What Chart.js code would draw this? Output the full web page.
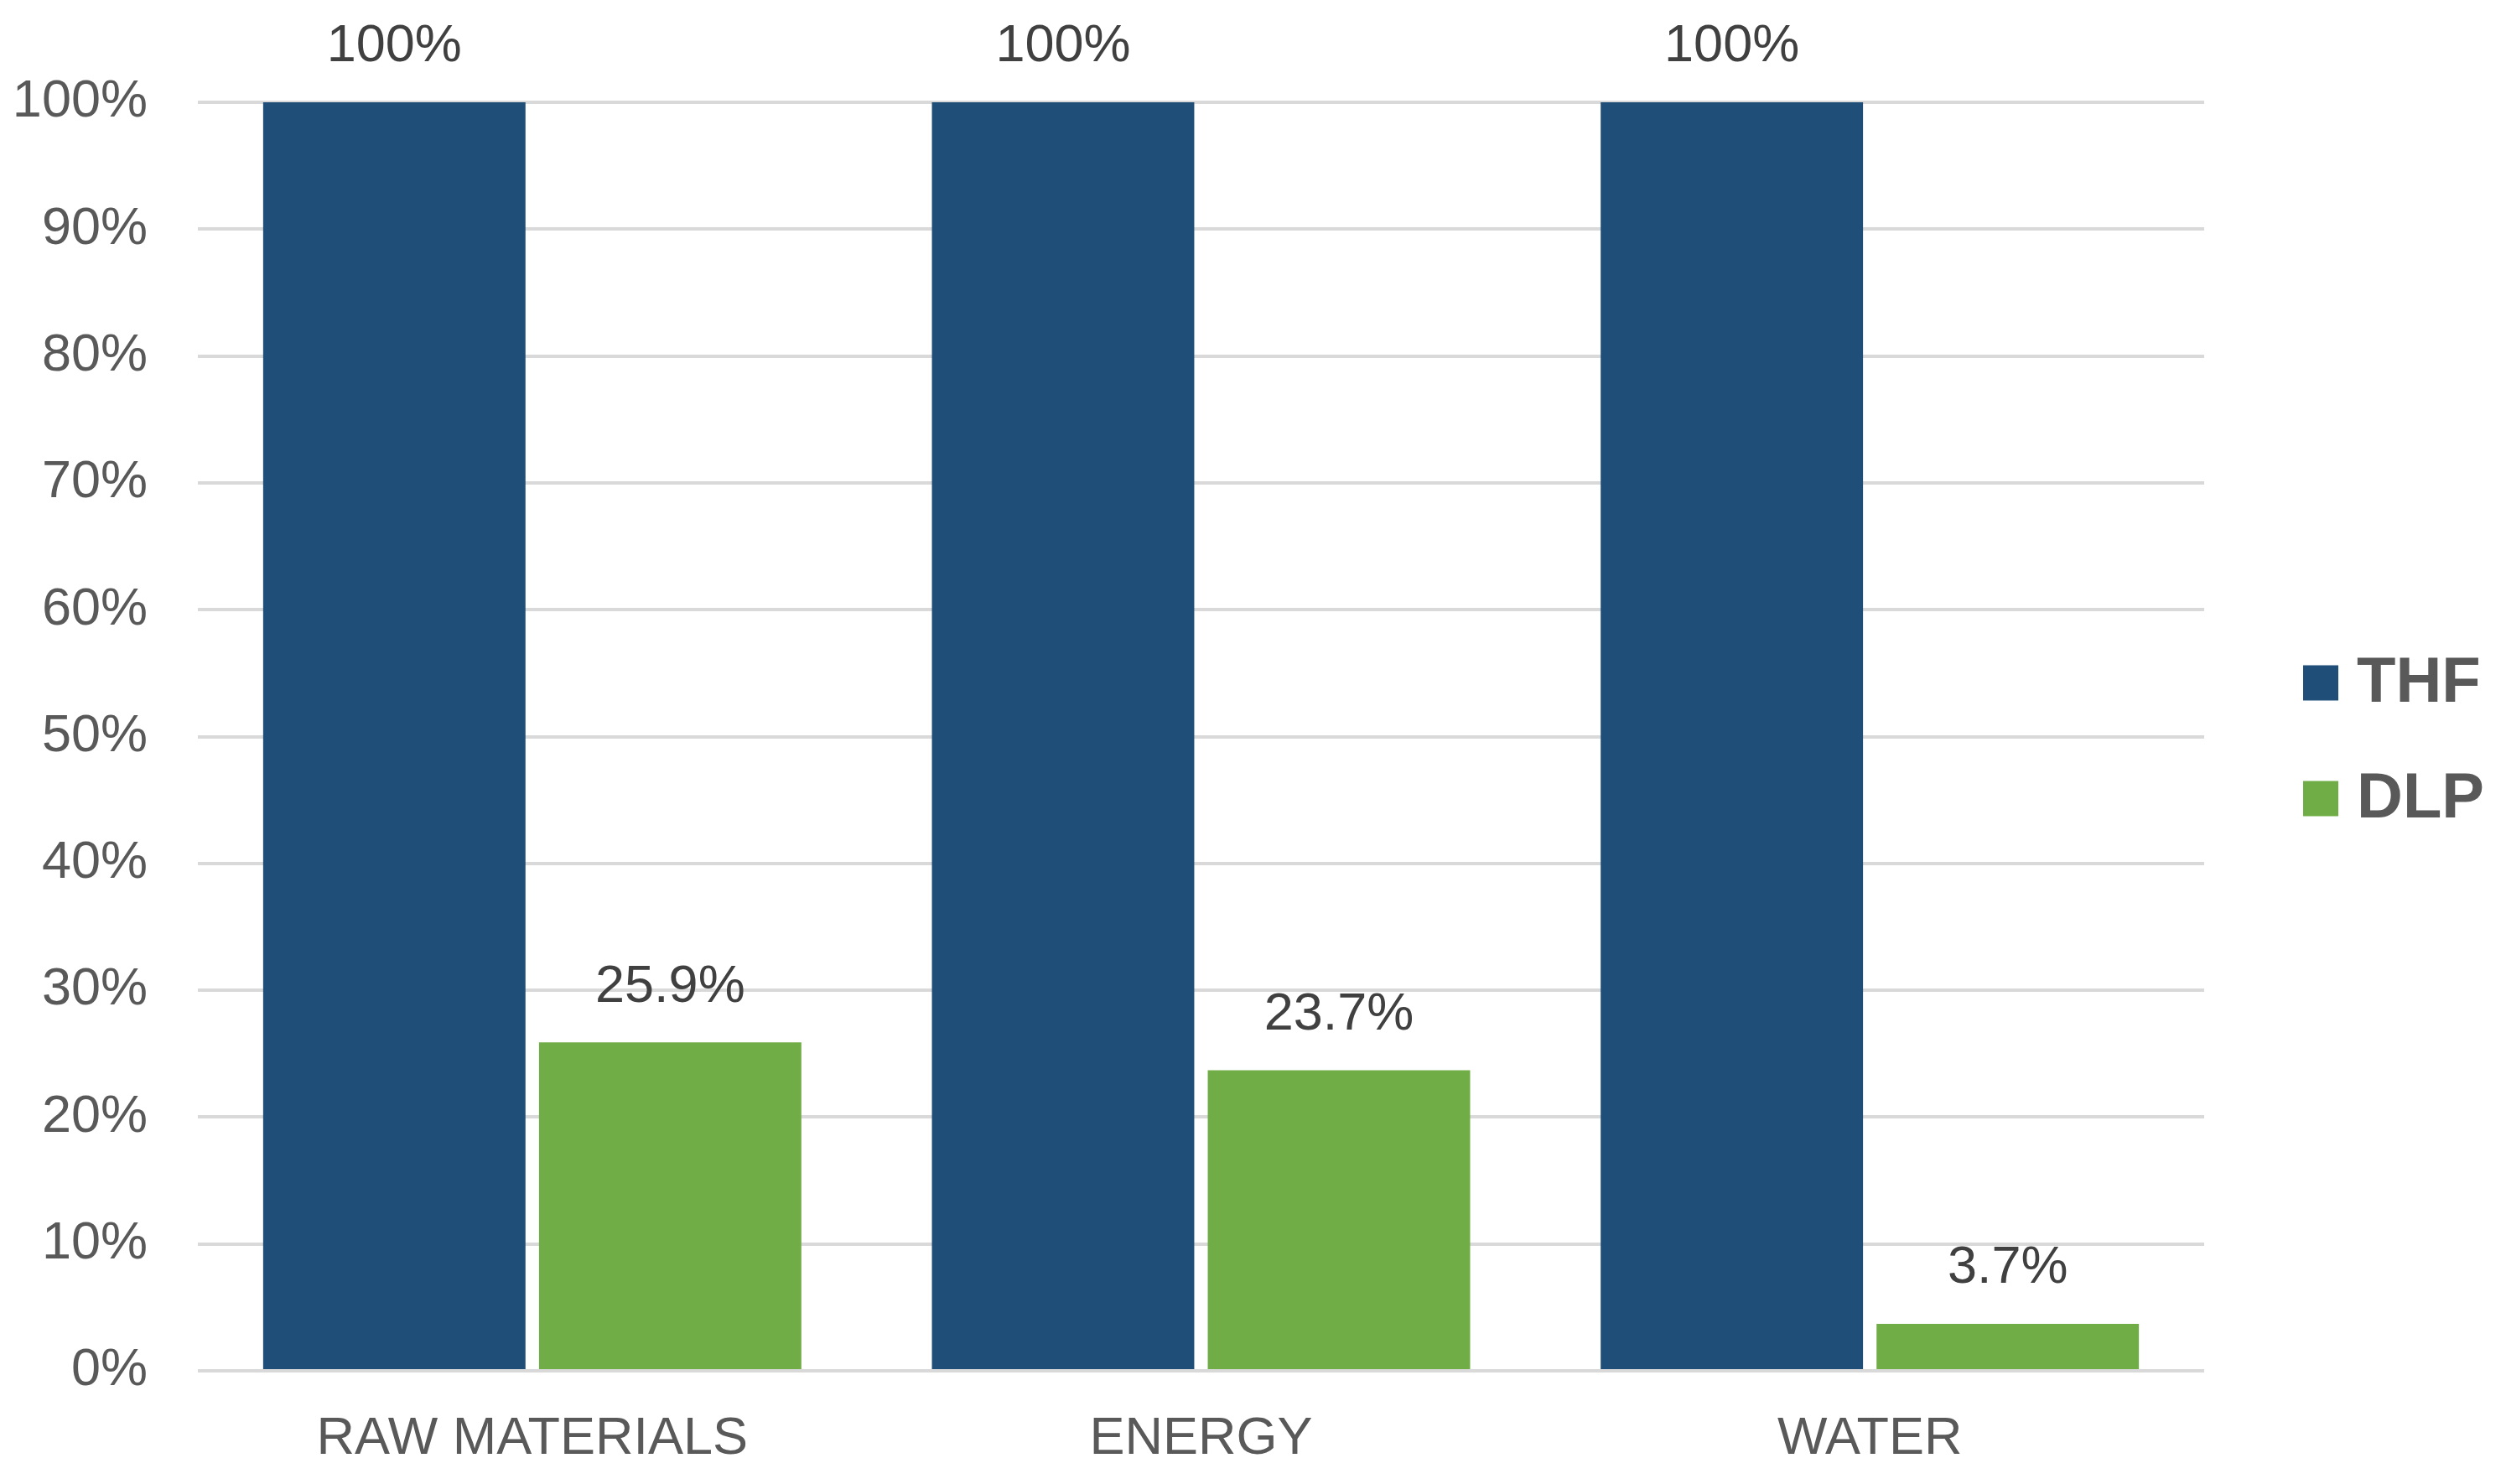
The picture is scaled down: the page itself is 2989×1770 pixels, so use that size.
<!DOCTYPE html>
<html>
<head>
<meta charset="utf-8">
<script src="https://cdn.jsdelivr.net/npm/chart.js@4.4.1/dist/chart.umd.min.js"></script>
<style>
  html, body { margin: 0; padding: 0; background: #fff; }
  #wrap { width: 2989px; height: 1770px; position: relative; }
</style>
</head>
<body>
<div id="wrap"><canvas id="chart"></canvas></div>
<script>
const categories = ['RAW MATERIALS', 'ENERGY', 'WATER'];
const seriesNames = ['THF', 'DLP'];
const thfValues = [100, 100, 100];
const dlpValues = [25.9, 23.7, 3.7];
const yTicks = [0, 10, 20, 30, 40, 50, 60, 70, 80, 90, 100];

const FONT = '"Liberation Sans", Arial, sans-serif';

// value labels above each bar
const barLabels = {
  id: 'barLabels',
  afterDatasetsDraw(chart) {
    const ctx = chart.ctx;
    ctx.save();
    ctx.font = '63px ' + FONT;
    ctx.fillStyle = '#404040';
    ctx.textAlign = 'center';
    ctx.textBaseline = 'middle';
    chart.data.datasets.forEach((ds, i) => {
      chart.getDatasetMeta(i).data.forEach((bar, j) => {
        ctx.fillText(ds.data[j] + '%', bar.x, bar.y - 66);
      });
    });
    ctx.restore();
  }
};

// legend to the right of the plot, squares + bold names
const sideLegend = {
  id: 'sideLegend',
  afterDraw(chart) {
    const ctx = chart.ctx;
    const area = chart.chartArea;
    const mid = (area.top + area.bottom) / 2 + 5;
    const box = 42, gap = 138;
    const x = area.right + 118;
    ctx.save();
    ctx.font = 'bold 76px ' + FONT;
    ctx.textBaseline = 'middle';
    ctx.textAlign = 'left';
    chart.data.datasets.forEach((ds, i) => {
      const cy = mid + (i - (chart.data.datasets.length - 1) / 2) * gap;
      ctx.fillStyle = ds.backgroundColor;
      ctx.fillRect(x, cy - box / 2, box, box);
      ctx.fillStyle = '#595959';
      ctx.fillText(ds.label, x + box + 22, cy + 2);
    });
    ctx.restore();
  }
};

new Chart(document.getElementById('chart'), {
  type: 'bar',
  data: {
    labels: categories,
    datasets: [
      { label: seriesNames[0], data: thfValues, backgroundColor: '#1F4E79' },
      { label: seriesNames[1], data: dlpValues, backgroundColor: '#70AD47' }
    ]
  },
  options: {
    responsive: true,
    maintainAspectRatio: false,
    devicePixelRatio: 1,
    animation: false,
    categoryPercentage: 0.825,
    barPercentage: 0.951,
    layout: { padding: { top: 122, left: 15, right: 360, bottom: 0 } },
    scales: {
      x: {
        grid: { display: false },
        border: { display: false },
        afterFit: axis => {
          axis.height = 135;
          axis.paddingLeft = 0;
          axis.paddingRight = 0;
        },
        ticks: {
          padding: 36,
          color: '#595959',
          font: { family: FONT, size: 63 }
        }
      },
      y: {
        min: 0,
        max: 100,
        afterBuildTicks: axis => { axis.ticks = yTicks.map(v => ({ value: v })); },
        afterFit: axis => {
          axis.width = 221;
          axis.paddingTop = 0;
          axis.paddingBottom = 0;
        },
        grid: { color: '#D9D9D9', lineWidth: 4, drawTicks: false },
        border: { display: false },
        ticks: {
          padding: 60,
          color: '#595959',
          font: { family: FONT, size: 63 },
          callback: v => v + '%'
        }
      }
    },
    plugins: {
      legend: { display: false },
      tooltip: { enabled: false }
    }
  },
  plugins: [barLabels, sideLegend]
});
</script>
</body>
</html>
